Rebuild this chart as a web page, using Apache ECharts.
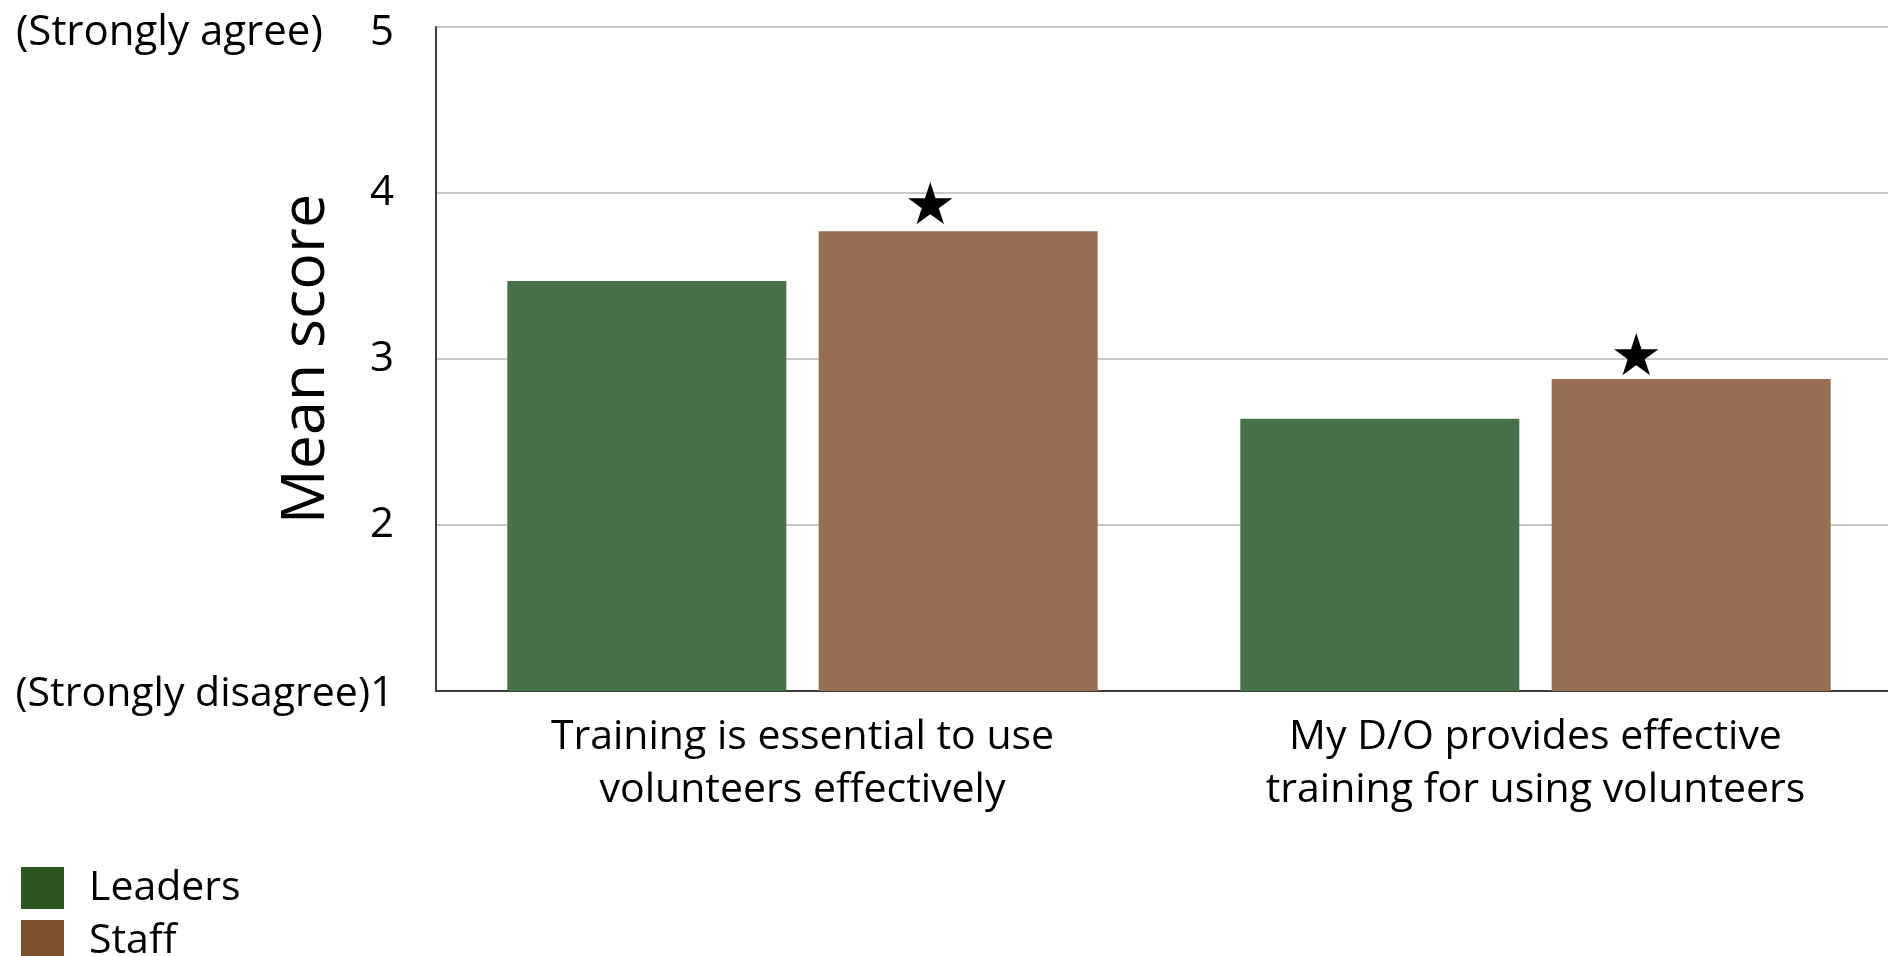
<!DOCTYPE html>
<html>
<head>
<meta charset="utf-8">
<script src="https://cdn.jsdelivr.net/npm/echarts@6/dist/echarts.min.js"></script>
<style>
html,body{margin:0;padding:0;background:#fff;}
#chart{width:1888px;height:956px;}
</style>
</head>
<body>
<div id="chart"></div>
<script>
const categories = ['Training is essential to use\nvolunteers effectively', 'My D/O provides effective\ntraining for using volunteers'];
const seriesNames = ['Leaders', 'Staff'];
const leaders = [3.47, 2.64];
const staff = [3.77, 2.88];
const staffSignificant = [true, true];
const yTicks = [1, 2, 3, 4, 5];
const yTickNotes = { 1: '(Strongly disagree)', 5: '(Strongly agree)' };

const FONT = '"Open Sans", "Liberation Sans", sans-serif';
const barColors = ['#47714a', '#966e52'];
const legendColors = ['#2c5522', '#7e4f2e'];
const starOffsets = [[-28, -22], [-55, -19]];

const chart = echarts.init(document.getElementById('chart'));

const option = {
  backgroundColor: '#ffffff',
  animation: false,
  grid: [
    { left: 436, right: -14, top: 27, bottom: 265, containLabel: false, outerBoundsMode: 'none' }
  ],
  legend: {
    orient: 'vertical',
    left: 16,
    top: 862,
    height: 200,
    itemWidth: 43,
    itemHeight: 42,
    itemGap: 11,
    icon: 'rect',
    textStyle: { fontFamily: FONT, fontSize: 41, color: '#000', padding: [0, 0, 0, 20] },
    data: seriesNames.map((n, i) => ({ name: n, itemStyle: { color: legendColors[i], opacity: 1 } }))
  },
  xAxis: [
    {
      type: 'category', data: categories,
      axisLine: { show: true, lineStyle: { color: '#3c3c3c', width: 2 } },
      axisTick: { show: false },
      axisLabel: { fontFamily: FONT, fontSize: 41, color: '#000', lineHeight: 53, margin: 20, interval: 0 }
    }
  ],
  yAxis: [
    {
      type: 'value', min: 1, max: 5, interval: 1,
      axisLine: { show: true, lineStyle: { color: '#3c3c3c', width: 2 } },
      axisTick: { show: false },
      splitLine: { show: true, lineStyle: { color: '#c8c8c8', width: 2 } },
      axisLabel: {
        margin: 42, fontFamily: FONT, fontSize: 42, color: '#000',
        formatter: function (v) {
          if (v === 5) return '{w|' + yTickNotes[v] + '}{n5|' + v + '}';
          if (v === 1) return '{t|' + yTickNotes[v] + '}{n1|' + v + '}';
          return '{n|' + v + '}';
        },
        rich: {
          w: { fontFamily: FONT, fontSize: 42, color: '#000', width: 354, align: 'left', padding: [12, 0, 0, 0] },
          n5: { fontFamily: FONT, fontSize: 42, color: '#000', padding: [12, 0, 0, 0] },
          t: { fontFamily: FONT, fontSize: 41, color: '#000', padding: [6, 0, 0, 0] },
          n1: { fontFamily: FONT, fontSize: 42, color: '#000', padding: [6, 0, 0, 0] },
          n: { fontFamily: FONT, fontSize: 42, color: '#000' }
        }
      },
      name: 'Mean score',
      nameLocation: 'middle',
      nameGap: 99,
      nameMoveOverlap: false,
      nameTextStyle: { fontFamily: FONT, fontSize: 61, color: '#000' }
    }
  ],
  series: [
    {
      name: seriesNames[0], type: 'bar',
      data: leaders, barWidth: 279, barGap: '11.6%',
      itemStyle: { color: barColors[0] }
    },
    {
      name: seriesNames[1], type: 'bar',
      data: staff.map((v, i) => ({
        value: v,
        label: {
          show: staffSignificant[i], formatter: '★',
          position: ['50%', 0], align: 'center', verticalAlign: 'middle',
          offset: starOffsets[i],
          fontFamily: 'DejaVu Sans', fontSize: 58, color: '#000'
        }
      })),
      barWidth: 279, barGap: '11.6%',
      itemStyle: { color: barColors[1] }
    }
  ]
};

chart.setOption(option);
</script>
</body>
</html>
